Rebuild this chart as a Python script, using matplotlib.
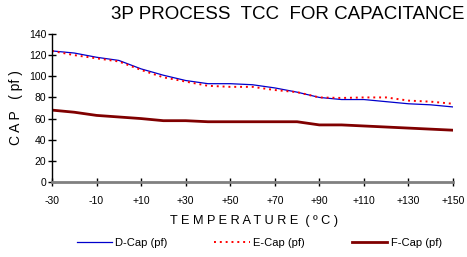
import matplotlib
matplotlib.use('Agg')
import matplotlib.pyplot as plt

plt.rcParams['font.family'] = ['Liberation Sans', 'DejaVu Sans']

# temperature points (deg C)
temps = [-30, -20, -10, 0, 10, 20, 30, 40, 50, 60, 70, 80, 90, 100, 110, 120, 130, 140, 150]
d_cap = [124, 122, 118, 115, 107, 101, 96, 93, 93, 92, 89, 85, 80, 78, 78, 76, 74, 73, 71]
e_cap = [124, 120, 117, 114, 106, 99, 95, 91, 90, 90, 87, 85, 80, 79.5, 80, 80, 77, 76, 74]
f_cap = [68, 66, 63, 61.5, 60, 58, 58, 57, 57, 57, 57, 57, 54, 54, 53, 52, 51, 50, 49]

xticks = [-30, -10, 10, 30, 50, 70, 90, 110, 130, 150]
xtick_labels = ['-30', '-10', '+10', '+30', '+50', '+70', '+90', '+110', '+130', '+150']
yticks = [0, 20, 40, 60, 80, 100, 120, 140]

fig = plt.figure(figsize=(4.67, 2.57), dpi=100)
ax = fig.add_axes([52 / 467, 1 - 182 / 257, 401 / 467, 148 / 257])

ax.plot(temps, d_cap, color='#0000cc', lw=0.9, label='D-Cap (pf)')
ax.plot(temps, e_cap, color='#ff0000', lw=1.4, ls=(0, (1, 2)), label='E-Cap (pf)')
ax.plot(temps, f_cap, color='#800000', lw=2.0, label='F-Cap (pf)')

ax.set_xlim(-30, 150)
ax.set_ylim(0, 140)
ax.set_xticks(xticks)
ax.set_xticklabels(xtick_labels)
ax.set_yticks(yticks)
ax.tick_params(axis='both', direction='inout', length=6, width=1, labelsize=7.5, color='black')
ax.tick_params(axis='x', pad=7)
ax.tick_params(axis='y', pad=1)

for s in ['top', 'right']:
    ax.spines[s].set_visible(False)
ax.spines['left'].set_color('black')
ax.spines['left'].set_linewidth(1)
ax.spines['bottom'].set_color('#808080')
ax.spines['bottom'].set_linewidth(2)

fig.text(0.995, 0.942, '3P PROCESS  TCC  FOR CAPACITANCE', ha='right', va='center', fontsize=13.5)
fig.text(0.035, 0.58, 'C A P   ( pf )', rotation=90, ha='center', va='center', fontsize=10)
fig.text(0.545, 0.14, 'T E M P E R A T U R E  ( º C )', ha='center', va='center', fontsize=9.2)

fig.legend(loc='center', bbox_to_anchor=(0.555, 0.055), ncol=3, frameon=False, fontsize=8,
           handlelength=3.2, columnspacing=4.2, handletextpad=0.3)

fig.savefig('out.png', dpi=100)
